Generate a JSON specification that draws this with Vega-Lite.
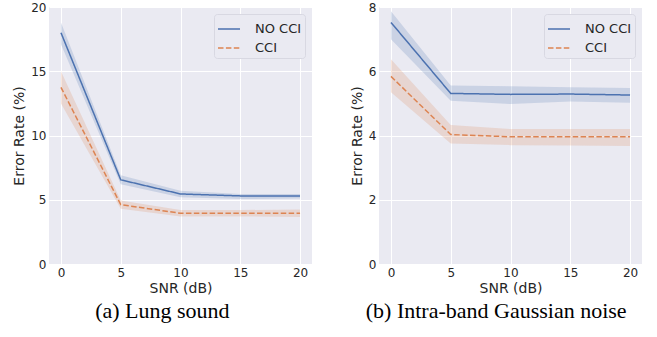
{
  "$schema": "https://vega.github.io/schema/vega-lite/v6.json",
  "padding": {"left": 12, "top": 1, "right": 4, "bottom": 4},
  "datasets": {
    "lung": [
      {"snr": 0, "method": "NO CCI", "rate": 18.0, "lo": 17.1, "hi": 18.8},
      {"snr": 5, "method": "NO CCI", "rate": 6.55, "lo": 6.2, "hi": 6.9},
      {"snr": 10, "method": "NO CCI", "rate": 5.45, "lo": 5.2, "hi": 5.7},
      {"snr": 15, "method": "NO CCI", "rate": 5.3, "lo": 5.05, "hi": 5.45},
      {"snr": 20, "method": "NO CCI", "rate": 5.3, "lo": 5.1, "hi": 5.45},
      {"snr": 0, "method": "CCI", "rate": 13.75, "lo": 12.5, "hi": 15.0},
      {"snr": 5, "method": "CCI", "rate": 4.62, "lo": 4.3, "hi": 4.95},
      {"snr": 10, "method": "CCI", "rate": 3.95, "lo": 3.7, "hi": 4.2},
      {"snr": 15, "method": "CCI", "rate": 3.95, "lo": 3.7, "hi": 4.2},
      {"snr": 20, "method": "CCI", "rate": 3.95, "lo": 3.65, "hi": 4.25}
    ],
    "gauss": [
      {"snr": 0, "method": "NO CCI", "rate": 7.52, "lo": 7.0, "hi": 7.87},
      {"snr": 5, "method": "NO CCI", "rate": 5.31, "lo": 5.08, "hi": 5.56},
      {"snr": 10, "method": "NO CCI", "rate": 5.28, "lo": 4.98, "hi": 5.53},
      {"snr": 15, "method": "NO CCI", "rate": 5.29, "lo": 5.06, "hi": 5.5},
      {"snr": 20, "method": "NO CCI", "rate": 5.26, "lo": 5.02, "hi": 5.48},
      {"snr": 0, "method": "CCI", "rate": 5.84, "lo": 5.35, "hi": 6.37},
      {"snr": 5, "method": "CCI", "rate": 4.03, "lo": 3.75, "hi": 4.33},
      {"snr": 10, "method": "CCI", "rate": 3.96, "lo": 3.7, "hi": 4.2},
      {"snr": 15, "method": "CCI", "rate": 3.96, "lo": 3.69, "hi": 4.2},
      {"snr": 20, "method": "CCI", "rate": 3.96, "lo": 3.67, "hi": 4.2}
    ]
  },
  "spacing": 38,
  "resolve": {"scale": {"color": "independent", "strokeDash": "independent"}, "legend": {"color": "independent", "strokeDash": "independent"}},
  "hconcat": [
    {
      "width": 263,
      "height": 257,
      "data": {"name": "lung"},
      "title": {"text": "(a) Lung sound", "orient": "bottom", "anchor": "middle", "frame": "bounds", "font": "Liberation Serif", "fontSize": 22, "fontWeight": "normal", "color": "#000000", "offset": 6},
      "encoding": {
        "x": {"field": "snr", "type": "quantitative", "scale": {"domain": [-1, 21], "nice": false}, "axis": {"values": [0, 5, 10, 15, 20], "title": "SNR (dB)"}}
      },
      "layer": [
        {
          "transform": [{"filter": "datum.method === 'NO CCI'"}],
          "mark": {"type": "area", "opacity": 0.2, "color": "#4C72B0"},
          "encoding": {
            "y": {"field": "lo", "type": "quantitative", "scale": {"domain": [0, 20], "nice": false}, "axis": {"values": [0, 5, 10, 15, 20], "title": "Error Rate (%)"}},
            "y2": {"field": "hi"}
          }
        },
        {
          "transform": [{"filter": "datum.method === 'CCI'"}],
          "mark": {"type": "area", "opacity": 0.2, "color": "#DD8452"},
          "encoding": {
            "y": {"field": "lo", "type": "quantitative"},
            "y2": {"field": "hi"}
          }
        },
        {
          "mark": {"type": "line", "strokeWidth": 1.5},
          "encoding": {
            "y": {"field": "rate", "type": "quantitative"},
            "color": {"field": "method", "type": "nominal", "scale": {"domain": ["NO CCI", "CCI"], "range": ["#4C72B0", "#DD8452"]}, "title": null},
            "strokeDash": {"field": "method", "type": "nominal", "scale": {"domain": ["NO CCI", "CCI"], "range": [[1, 0], [5.5, 2.4]]}, "title": null}
          }
        }
      ]
    },
    {
      "width": 263,
      "height": 257,
      "data": {"name": "gauss"},
      "title": {"text": "(b) Intra-band Gaussian noise", "orient": "bottom", "anchor": "middle", "frame": "bounds", "font": "Liberation Serif", "fontSize": 22, "fontWeight": "normal", "color": "#000000", "offset": 6},
      "encoding": {
        "x": {"field": "snr", "type": "quantitative", "scale": {"domain": [-1, 21], "nice": false}, "axis": {"values": [0, 5, 10, 15, 20], "title": "SNR (dB)"}}
      },
      "layer": [
        {
          "transform": [{"filter": "datum.method === 'NO CCI'"}],
          "mark": {"type": "area", "opacity": 0.2, "color": "#4C72B0"},
          "encoding": {
            "y": {"field": "lo", "type": "quantitative", "scale": {"domain": [0, 8], "nice": false}, "axis": {"values": [0, 2, 4, 6, 8], "title": "Error Rate (%)"}},
            "y2": {"field": "hi"}
          }
        },
        {
          "transform": [{"filter": "datum.method === 'CCI'"}],
          "mark": {"type": "area", "opacity": 0.2, "color": "#DD8452"},
          "encoding": {
            "y": {"field": "lo", "type": "quantitative"},
            "y2": {"field": "hi"}
          }
        },
        {
          "mark": {"type": "line", "strokeWidth": 1.5},
          "encoding": {
            "y": {"field": "rate", "type": "quantitative"},
            "color": {"field": "method", "type": "nominal", "scale": {"domain": ["NO CCI", "CCI"], "range": ["#4C72B0", "#DD8452"]}, "title": null},
            "strokeDash": {"field": "method", "type": "nominal", "scale": {"domain": ["NO CCI", "CCI"], "range": [[1, 0], [5.5, 2.4]]}, "title": null}
          }
        }
      ]
    }
  ],
  "config": {
    "font": "DejaVu Sans",
    "background": "#ffffff",
    "view": {"fill": "#EAEAF2", "stroke": null},
    "axis": {
      "domain": false,
      "ticks": false,
      "grid": true,
      "gridColor": "#ffffff",
      "gridWidth": 1,
      "labelFont": "DejaVu Sans",
      "labelFontSize": 12,
      "labelColor": "#262626",
      "labelPadding": 3,
      "titleFont": "DejaVu Sans",
      "titleFontSize": 14,
      "titleFontWeight": "normal",
      "titleColor": "#262626"
    },
    "axisX": {"titlePadding": 3},
    "axisY": {"titlePadding": 4},
    "legend": {
      "orient": "top-right",
      "offset": 7,
      "fillColor": "#EAEAF2",
      "strokeColor": "#d8d8e2",
      "cornerRadius": 3,
      "padding": 3,
      "symbolType": "stroke",
      "symbolSize": 484,
      "symbolStrokeWidth": 1.5,
      "labelFont": "DejaVu Sans",
      "labelFontSize": 13,
      "labelColor": "#262626",
      "labelOffset": 14,
      "rowPadding": -4
    }
  }
}
